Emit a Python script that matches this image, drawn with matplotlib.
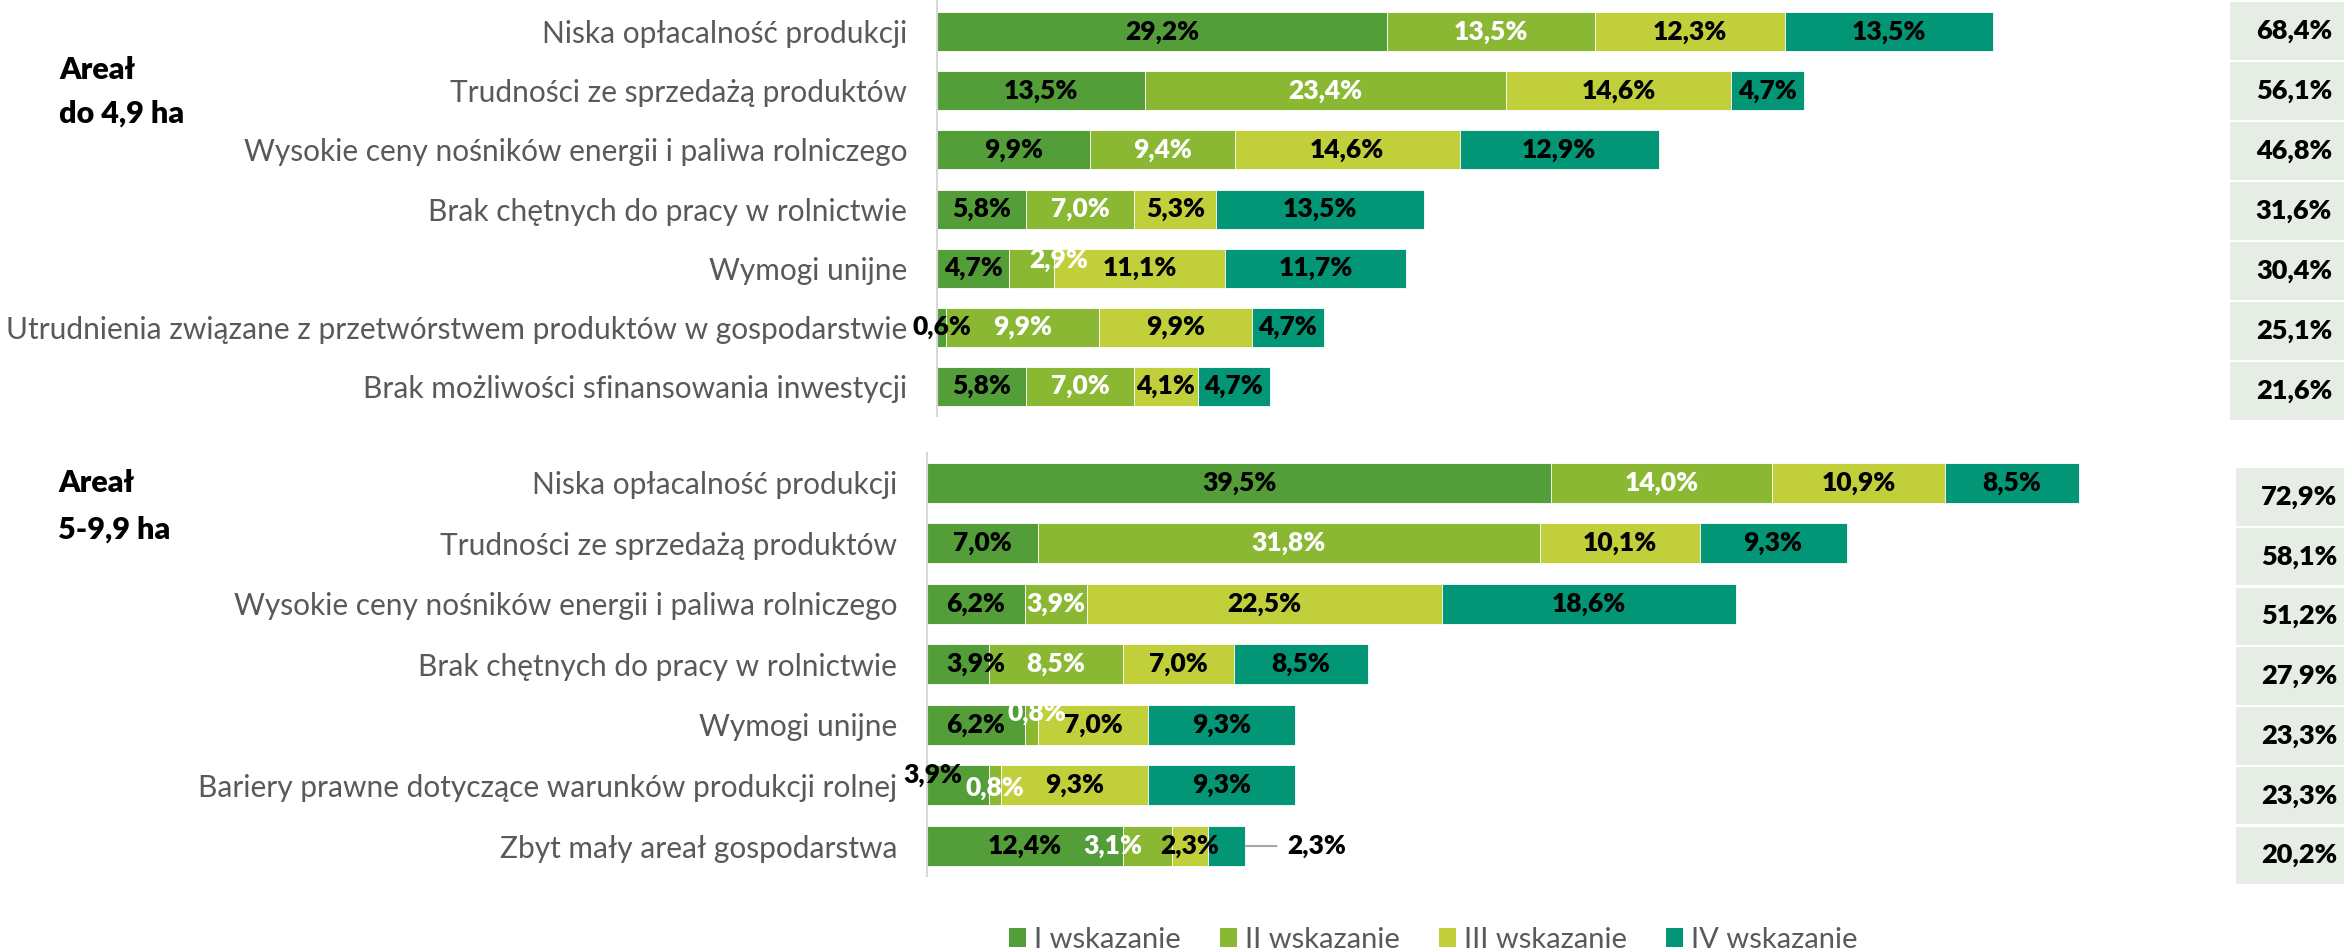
import matplotlib.pyplot as plt
from matplotlib.patches import Patch

# ---- dane ----
series_names = ["I wskazanie", "II wskazanie", "III wskazanie", "IV wskazanie"]
colors = ["#549E39", "#8AB833", "#C0CF3A", "#029676"]
label_colors = ["black", "white", "black", "black"]

cats_small = ["Niska opłacalność produkcji",
              "Trudności ze sprzedażą produktów",
              "Wysokie ceny nośników energii i paliwa rolniczego",
              "Brak chętnych do pracy w rolnictwie",
              "Wymogi unijne",
              "Utrudnienia związane z przetwórstwem produktów w gospodarstwie",
              "Brak możliwości sfinansowania inwestycji"]
small_I = [29.2, 13.5, 9.9, 5.8, 4.7, 0.6, 5.8]
small_II = [13.5, 23.4, 9.4, 7.0, 2.9, 9.9, 7.0]
small_III = [12.3, 14.6, 14.6, 5.3, 11.1, 9.9, 4.1]
small_IV = [13.5, 4.7, 12.9, 13.5, 11.7, 4.7, 4.7]
small_total = [68.4, 56.1, 46.8, 31.6, 30.4, 25.1, 21.6]

cats_mid = ["Niska opłacalność produkcji",
            "Trudności ze sprzedażą produktów",
            "Wysokie ceny nośników energii i paliwa rolniczego",
            "Brak chętnych do pracy w rolnictwie",
            "Wymogi unijne",
            "Bariery prawne dotyczące warunków produkcji rolnej",
            "Zbyt mały areał gospodarstwa"]
mid_I = [39.5, 7.0, 6.2, 3.9, 6.2, 3.9, 12.4]
mid_II = [14.0, 31.8, 3.9, 8.5, 0.8, 0.8, 3.1]
mid_III = [10.9, 10.1, 22.5, 7.0, 7.0, 9.3, 2.3]
mid_IV = [8.5, 9.3, 18.6, 8.5, 9.3, 9.3, 2.3]
mid_total = [72.9, 58.1, 51.2, 27.9, 23.3, 23.3, 20.2]

W, H = 2344, 951
plt.rcParams['font.family'] = ['Lato', 'DejaVu Sans']
fig = plt.figure(figsize=(W / 100, H / 100), dpi=100)

BOLD = "heavy"


def px_axes(l, t, w, h):
    return fig.add_axes([l / W, 1 - (t + h) / H, w / W, h / H])


def fmt(v):
    return f"{v:.1f}%".replace(".", ",")


# przesunięcia etykiet w px (wiersz, seria) -> (dx, dy)
small_off = {(4, 1): (27, -8)}
mid_off = {(3, 0): (18, 0), (4, 1): (6, -12), (5, 0): (-25, -10), (5, 1): (0, 3), (6, 1): (-35, 0)}


def draw_group(ax, cats, data, offs, outside=None):
    y = list(range(len(cats)))
    left = [0] * len(cats)
    for s, vals in enumerate(data):
        ax.barh(y, vals, left=left, height=0.66, color=colors[s], edgecolor="white", linewidth=0.6)
        for i, v in enumerate(vals):
            if outside == (i, s):
                ax.annotate(fmt(v), xy=(left[i] + v, i), xytext=(31, 0), textcoords="offset points",
                            ha="left", va="center", fontsize=19, fontweight=BOLD, color="black",
                            arrowprops=dict(arrowstyle="-", color="#A6A6A6", lw=1.5, shrinkA=6, shrinkB=1))
            else:
                dx, dy = offs.get((i, s), (0, 0))
                ax.annotate(fmt(v), xy=(left[i] + v / 2, i), xytext=(dx * 0.72, -dy * 0.72),
                            textcoords="offset points", ha="center", va="center",
                            fontsize=19, fontweight=BOLD, color=label_colors[s])
            left[i] += v
    ax.set_yticks(y)
    ax.set_yticklabels(cats, fontsize=21.5, color="#595959")
    ax.tick_params(axis="y", length=0, pad=21.5)
    ax.set_xticks([])
    for sp in ["top", "right", "bottom"]:
        ax.spines[sp].set_visible(False)
    ax.spines["left"].set_color("#D9D9D9")
    ax.spines["left"].set_linewidth(1.5)


def draw_totals(ax, totals, text_x):
    y = list(range(len(totals)))
    ax.barh(y, [1] * len(totals), height=0.965, color="#E6EDE5")
    for i, t in enumerate(totals):
        ax.text(text_x, i, fmt(t), ha="right", va="center", fontsize=19.5, fontweight=BOLD, color="black")
    ax.set_xlim(0, 1)
    ax.set_ylim(len(totals) - 0.5, -0.5)
    ax.axis("off")


# górny wykres: do 4,9 ha
ax1 = px_axes(937, 0, 1263, 416)
draw_group(ax1, cats_small, [small_I, small_II, small_III, small_IV], small_off)
ax1.set_xlim(0, 1263 / 15.42)
ax1.set_ylim(6.5, -0.536)

# dolny wykres: 5-9,9 ha
ax2 = px_axes(927, 452.7, 1273, 423.3)
draw_group(ax2, cats_mid, [mid_I, mid_II, mid_III, mid_IV], mid_off, outside=(6, 3))
ax2.set_xlim(0, 1273 / 15.8)
ax2.set_ylim(6.495, -0.495)

# kolumna sum
axt1 = px_axes(2230, 1, 114, 420)
draw_totals(axt1, small_total, (2332 - 2230) / 114)
axt2 = px_axes(2235.7, 467, 108.3, 418.3)
draw_totals(axt2, mid_total, (2337 - 2235.7) / 108.3)

# tytuły grup
fig.text(59 / W, 1 - 70 / H, "Areał", fontsize=22, fontweight=BOLD, va="center", ha="left")
fig.text(59 / W, 1 - 114 / H, "do 4,9 ha", fontsize=22, fontweight=BOLD, va="center", ha="left")
fig.text(58 / W, 1 - 483 / H, "Areał", fontsize=22, fontweight=BOLD, va="center", ha="left")
fig.text(58 / W, 1 - 530 / H, "5-9,9 ha", fontsize=22, fontweight=BOLD, va="center", ha="left")

# legenda
handles = [Patch(facecolor=c, edgecolor="none") for c in colors]
leg = fig.legend(handles, series_names, loc="center", bbox_to_anchor=(1433 / W, 1 - 940 / H), ncol=4,
                 frameon=False, fontsize=21, handlelength=0.6, handleheight=0.6, handletextpad=0.25,
                 columnspacing=1.35, borderpad=0)
for t in leg.get_texts():
    t.set_color("#595959")

fig.savefig("out.png", dpi=100)
